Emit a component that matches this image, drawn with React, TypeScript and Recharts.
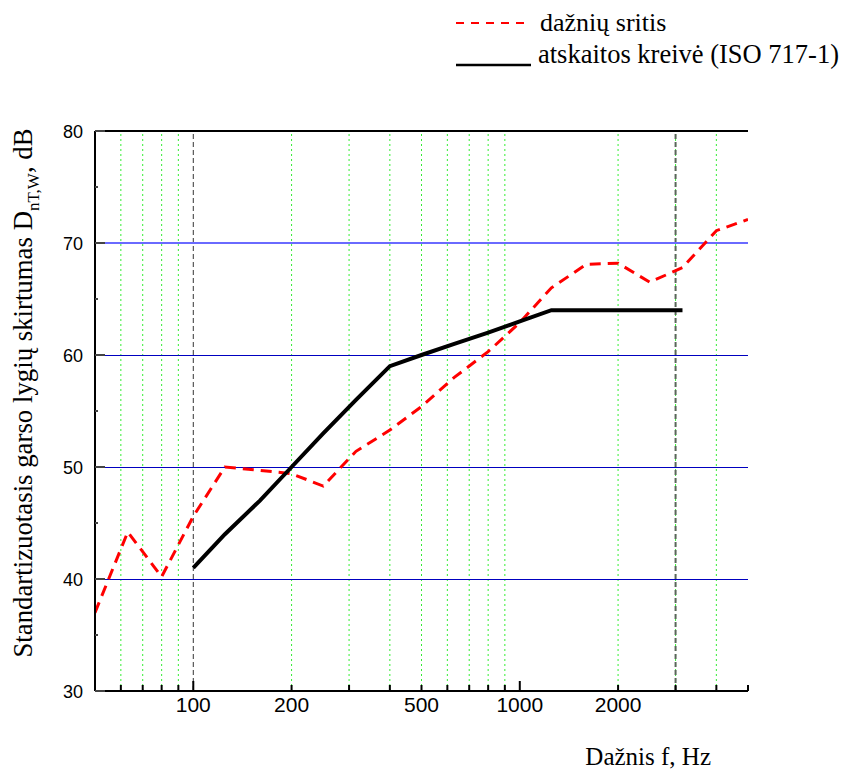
import React from 'react';
import { LineChart, Line, XAxis, YAxis, ReferenceLine, Legend } from 'recharts';

// third-octave band centre frequencies, Hz
const freqs = [50, 63, 80, 100, 125, 160, 200, 250, 315, 400, 500, 630, 800, 1000, 1250, 1600, 2000, 2500, 3150, 4000, 5000];
// measured curve, dB
const measured = [37.0, 44.2, 40.2, 45.6, 50.0, 49.7, 49.4, 48.3, 51.4, 53.3, 55.4, 58.0, 60.3, 62.9, 66.0, 68.1, 68.2, 66.5, 67.8, 71.1, 72.1];
// ISO 717-1 reference curve (shifted)
const refFreqs = [100, 125, 160, 200, 250, 315, 400, 500, 630, 800, 1000, 1250, 1600, 2000, 2500, 3150];
const refCurve = [41, 44, 47, 50, 53, 56, 59, 60, 61, 62, 63, 64, 64, 64, 64, 64];

const yTicks = [30, 35, 40, 45, 50, 55, 60, 65, 70, 75, 80];
const yLabels = [30, 40, 50, 60, 70, 80];
const xTicks = [60, 70, 80, 90, 100, 200, 300, 400, 500, 600, 700, 800, 900, 1000, 2000, 3000, 4000, 5000];
const xLabels = [100, 200, 500, 1000, 2000];
const xMajor = [100, 1000];

const greenGrid = [60, 70, 80, 90, 200, 300, 400, 500, 600, 700, 800, 900, 2000, 3000, 4000];
const blueGrid = [40, 50, 60];

const measuredData = freqs.map((f, i) => ({ f, v: measured[i] }));
const refData = refFreqs.map((f, i) => ({ f, v: refCurve[i] }));

const sans = "'Liberation Sans', Arial, sans-serif";
const serif = "'Liberation Serif', 'Times New Roman', serif";

function XTick(props: any) {
  const { x, y, payload } = props;
  const v = payload.value;
  const len = xMajor.includes(v) ? 10 : 6;
  return (
    <g>
      <line x1={x} x2={x} y1={y} y2={y - len} stroke="#000" strokeWidth={2} />
      {xLabels.includes(v) && (
        <text x={x} y={y + 21} textAnchor="middle" fontSize={21} fontFamily={sans} fill="#000">
          {v}
        </text>
      )}
    </g>
  );
}

function YTick(props: any) {
  const { x, y, payload } = props;
  const v = payload.value;
  const major = yLabels.includes(v);
  return (
    <g>
      <line x1={x} x2={x + (major ? 10 : 3)} y1={y} y2={y} stroke="#444" strokeWidth={2} />
      {major && (
        <text x={x - 12} y={y + 6.5} textAnchor="end" fontSize={18} fontFamily={sans} fill="#000">
          {v}
        </text>
      )}
    </g>
  );
}

function RightTick(props: any) {
  const { x, y } = props;
  return <line x1={x} x2={x - 3} y1={y} y2={y} stroke="#000" strokeWidth={2} />;
}

function LegendBox() {
  return (
    <svg width={403} height={75} style={{ display: 'block' }}>
      <line x1={16} x2={90} y1={23} y2={23} stroke="#ff0000" strokeWidth={2} strokeDasharray="8 7" />
      <text x={100} y={31} fontSize={26} fontFamily={serif} fill="#000">dažnių sritis</text>
      <line x1={16} x2={91} y1={65} y2={65} stroke="#000" strokeWidth={2.5} />
      <text x={98} y={63} fontSize={26.5} fontFamily={serif} fill="#000">atskaitos kreivė (ISO 717-1)</text>
    </svg>
  );
}

export default function App() {
  return (
    <div style={{ position: 'absolute', left: 0, top: 0, background: '#fff' }}>
      <LineChart width={843} height={769} margin={{ top: 131, right: 95, bottom: 38, left: 35 }}>
        <XAxis
          type="number"
          dataKey="f"
          scale="log"
          domain={[50, 5000]}
          allowDataOverflow
          ticks={xTicks}
          interval={0}
          tickSize={0}
          tickMargin={0}
          tickLine={false}
          tick={<XTick />}
          height={40}
          axisLine={{ stroke: '#000', strokeWidth: 2 }}
          label={{
            content: (p: any) => (
              <text x={p.viewBox.x + p.viewBox.width - 37} y={p.viewBox.y + 74} textAnchor="end" fontSize={25} fontFamily={serif} fill="#000">
                Dažnis f, Hz
              </text>
            ),
          }}
        />
        <YAxis
          type="number"
          domain={[30, 80]}
          ticks={yTicks}
          interval={0}
          tickSize={0}
          tickMargin={0}
          tickLine={false}
          tick={<YTick />}
          width={60}
          axisLine={{ stroke: '#000', strokeWidth: 2 }}
          label={{
            content: () => (
              <text x={32} y={393} transform="rotate(-90, 32, 393)" textAnchor="middle" fontSize={26.8} fontFamily={serif} fill="#000">
                Standartizuotasis garso lygių skirtumas D
                <tspan fontSize={17} dy={7}>nT,W</tspan>
                <tspan dy={-7}>, dB</tspan>
              </text>
            ),
          }}
        />
        <YAxis
          yAxisId="r"
          orientation="right"
          type="number"
          domain={[30, 80]}
          ticks={yTicks}
          interval={0}
          tickSize={0}
          tickMargin={0}
          tickLine={false}
          tick={<RightTick />}
          width={0}
          axisLine={{ stroke: '#000', strokeWidth: 2 }}
        />
        {greenGrid.map((f) => (
          <ReferenceLine key={'g' + f} x={f} stroke="#33ee33" strokeWidth={1} strokeDasharray="2 3" zIndex={100} />
        ))}
        <ReferenceLine x={100} stroke="#333" strokeWidth={1} strokeDasharray="5 3" zIndex={100} />
        <ReferenceLine x={3000} stroke="#5a665a" strokeWidth={2} strokeDasharray="5 3" zIndex={100} />
        {blueGrid.map((v) => (
          <ReferenceLine key={'b' + v} y={v} stroke="#0000c0" strokeWidth={1} shapeRendering="crispEdges" zIndex={100} />
        ))}
        <ReferenceLine y={70} stroke="#6a6aff" strokeWidth={2} zIndex={100} />
        <ReferenceLine y={80} stroke="#000" strokeWidth={2} zIndex={100} />
        <Line
          data={measuredData}
          dataKey="v"
          type="linear"
          stroke="#ff0000"
          strokeWidth={3}
          strokeDasharray="11 7"
          dot={false}
          isAnimationActive={false}
          name="dažnių sritis"
        />
        <Line
          data={refData}
          dataKey="v"
          type="linear"
          stroke="#000"
          strokeWidth={4}
          dot={false}
          isAnimationActive={false}
          name="atskaitos kreivė (ISO 717-1)"
        />
        <Legend
          layout="vertical"
          align="center"
          verticalAlign="middle"
          content={() => <LegendBox />}
          wrapperStyle={{ position: 'absolute', left: 440, top: 0, width: 403, height: 75 }}
        />
      </LineChart>
    </div>
  );
}
